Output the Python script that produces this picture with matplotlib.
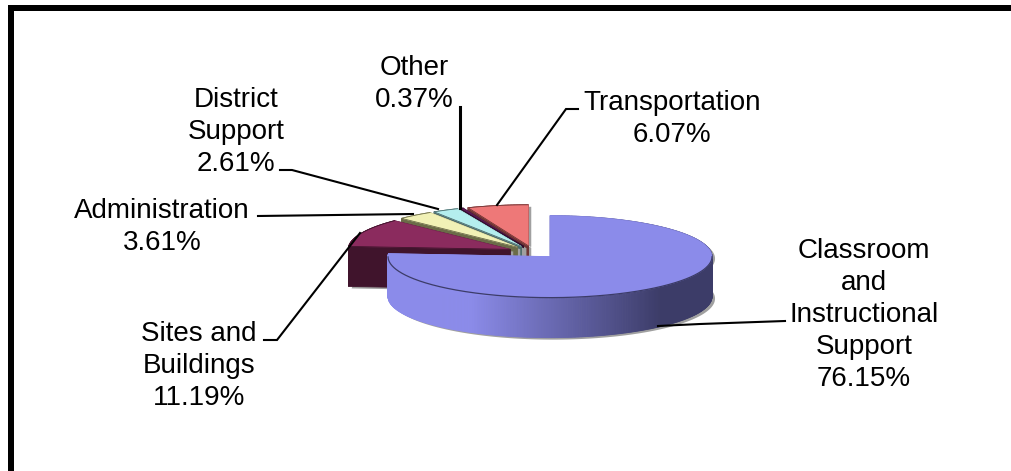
import numpy as np
import matplotlib
matplotlib.use("Agg")
import matplotlib.pyplot as plt
from matplotlib.patches import Polygon, Rectangle

plt.rcParams['font.family'] = ['Liberation Sans', 'DejaVu Sans']

# slices run clockwise from 12 o'clock
categories = ["Classroom\nand\nInstructional\nSupport", "Sites and\nBuildings", "Administration",
              "District\nSupport", "Other", "Transportation"]
shares = [76.15, 11.19, 3.61, 2.61, 0.37, 6.07]
top_colors = ["#8b8bea", "#8b2b5e", "#f1f1b6", "#b4eeee", "#5c1a55", "#ee7878"]
wall_colors = ["#3c3c68", "#40142c", "#6b6b48", "#4c6c6c", "#2c0c28", "#6e3434"]

# label anchor: centre x, baseline of first line
label_pos = [(864, 258), (199, 341), (162, 218), (236, 107), (414, 75), (672, 110)]
leaders = [
    [(785, 321), (700, 324), (658, 326)],
    [(264, 340), (277, 340), (360, 233)],
    [(258, 216), (413, 214)],
    [(280, 170), (292, 170), (438, 209)],
    [(460, 107), (460, 208)],
    [(578, 109), (566, 109), (497, 205)],
]
leader_widths = [1.5, 1.5, 1.5, 1.5, 2.2, 1.5]

CX, CY = 533, 252      # pie centre before the slices are pulled out
RX, RY = 162, 41       # top-face ellipse
DEPTH = 40
EXPLODE = 25
TILT = RY / RX

fig = plt.figure(figsize=(10.11, 4.71), dpi=100)
ax = fig.add_axes([0, 0, 1, 1])
ax.set_xlim(0, 1011)
ax.set_ylim(471, 0)
ax.axis("off")

# heavy frame, open on the right and at the bottom
ax.add_patch(Rectangle((8, 5), 1003, 6, color="black", lw=0))
ax.add_patch(Rectangle((8, 5), 6, 466, color="black", lw=0))


def blue_wall(x):
    # side of the big slice: flat on the left, falling off to the right
    t = np.interp(x, [388, 470, 660, 712], [0, 0, 1, 1])
    a = np.array(matplotlib.colors.to_rgb(top_colors[0]))
    b = np.array(matplotlib.colors.to_rgb(wall_colors[0]))
    return tuple(a + (b - a) * t)


def draw_slice(start, end, top, wall, gradient=False):
    mid = np.radians((start + end) / 2)
    ax0 = CX + EXPLODE * np.sin(mid)
    ay0 = CY - EXPLODE * TILT * np.cos(mid)
    th = np.radians(np.linspace(start, end, max(int(end - start) * 2, 4)))
    xs = ax0 + RX * np.sin(th)
    ys = ay0 - RY * np.cos(th)
    px = np.r_[ax0, xs]
    py = np.r_[ay0, ys]

    # soft grey drop edge under the solid
    sil = np.r_[np.c_[px, py], np.c_[px[::-1], py[::-1] + DEPTH]] + [3, 2]
    ax.add_patch(Polygon(sil, color="#a0a0a0", lw=0))

    # walls first, top face over them
    n = len(px)
    for i in range(n):
        j = (i + 1) % n
        q = [(px[i], py[i]), (px[j], py[j]), (px[j], py[j] + DEPTH), (px[i], py[i] + DEPTH)]
        c = blue_wall((px[i] + px[j]) / 2) if gradient else wall
        ax.add_patch(Polygon(q, facecolor=c, edgecolor=c, lw=0.6))
    ax.add_patch(Polygon(np.c_[px, py], facecolor=top, edgecolor=top, lw=0.5))
    front = np.cos(th) < 0
    if gradient:
        ax.plot(xs[front], ys[front], color=wall, lw=0.9)
    else:
        ax.plot(px, py, color=wall, lw=0.6)


edges = np.r_[0, np.cumsum(shares)] / sum(shares) * 360
# back slices first so the nearer ones sit on top
for i in range(len(shares) - 1, -1, -1):
    draw_slice(edges[i], edges[i + 1], top_colors[i], wall_colors[i], gradient=i == 0)

for pts, w in zip(leaders, leader_widths):
    ax.plot(*zip(*pts), color="black", lw=w, solid_joinstyle="miter")

LINE_H = 32
for name, val, (x, y) in zip(categories, shares, label_pos):
    for k, line in enumerate(name.split("\n") + [f"{val:.2f}%"]):
        ax.text(x, y + k * LINE_H, line, ha="center", va="baseline", fontsize=20, color="black")

fig.savefig("out.png", dpi=100)
